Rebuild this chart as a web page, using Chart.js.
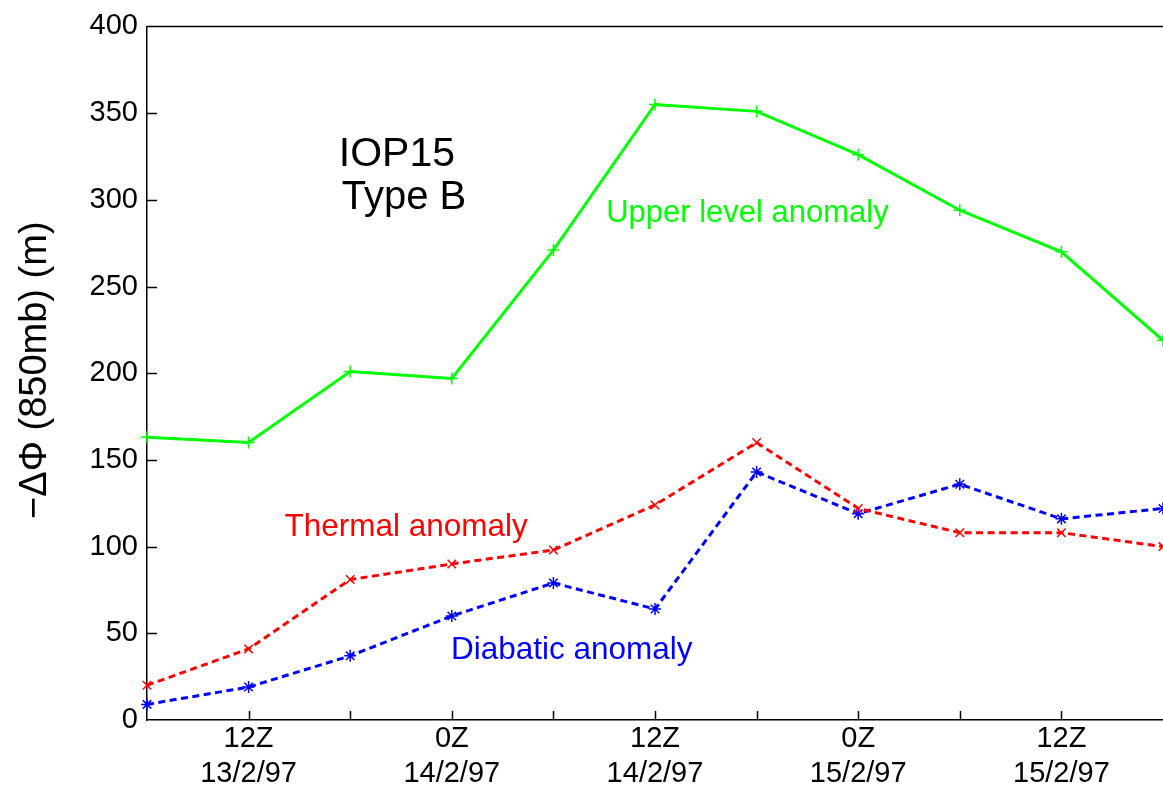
<!DOCTYPE html>
<html>
<head>
<meta charset="utf-8">
<style>
  html, body { margin: 0; padding: 0; background: #fff; overflow: hidden; }
  #wrap { width: 1163px; height: 789px; position: relative; }
</style>
<script src="https://cdn.jsdelivr.net/npm/chart.js@4/dist/chart.umd.min.js"></script>
</head>
<body>
<div id="wrap"><canvas id="chart"></canvas></div>
<script>
// ── Data ──────────────────────────────────────────────────────
const times = ['6Z', '12Z', '18Z', '0Z', '6Z', '12Z', '18Z', '0Z', '6Z', '12Z', '18Z'];
const dates = ['13/2/97', '13/2/97', '13/2/97', '14/2/97', '14/2/97', '14/2/97',
               '14/2/97', '15/2/97', '15/2/97', '15/2/97', '15/2/97'];
const labeledTimes = ['0Z', '12Z'];

const upperLevel = [163, 160, 201, 197, 271, 355, 351, 326, 294, 270, 219];
const thermal    = [20, 41, 81, 90, 98, 124, 160, 122, 108, 108, 100];
const diabatic   = [9, 19, 37, 60, 79, 64, 143, 119, 136, 116, 122];

const yTitle = '−ΔΦ (850mb) (m)';

// text placed in data coordinates (category index, value)
const notes = [
  { text: 'IOP15',               x: 2.46, y: 326, color: '#000000', size: 41 },
  { text: 'Type B',              x: 2.53, y: 301, color: '#000000', size: 40 },
  { text: 'Upper level anomaly', x: 5.91, y: 292, color: '#00ff00', size: 31 },
  { text: 'Thermal anomaly',     x: 2.55, y: 111, color: '#ff0000', size: 31.5 },
  { text: 'Diabatic anomaly',    x: 4.18, y: 40,  color: '#0000ff', size: 31.5 }
];

const FONT = '"Liberation Sans", Arial, Helvetica, sans-serif';

// ── Frame: top line, inward ticks, notes, y title ─────────────
const framePlugin = {
  id: 'frame',
  afterDatasetsDraw(chart) {
    const ctx = chart.ctx;
    const area = chart.chartArea;
    const xs = chart.scales.x;
    const ys = chart.scales.y;

    ctx.save();
    ctx.strokeStyle = '#000';
    ctx.lineWidth = 1.5;

    // top border
    ctx.beginPath();
    ctx.moveTo(area.left, area.top);
    ctx.lineTo(area.right + 2, area.top);
    ctx.stroke();

    // inward ticks on y
    ys.ticks.forEach(function (t) {
      if (t.value <= 0 || t.value >= 400) return;
      const py = Math.round(ys.getPixelForValue(t.value)) + 0.5;
      ctx.beginPath();
      ctx.moveTo(area.left, py);
      ctx.lineTo(area.left + 10, py);
      ctx.stroke();
    });

    // inward ticks on x
    for (let i = 1; i < times.length - 1; i++) {
      const px = Math.round(xs.getPixelForValue(i)) + 0.5;
      ctx.beginPath();
      ctx.moveTo(px, area.bottom);
      ctx.lineTo(px, area.bottom - 9);
      ctx.stroke();
    }

    // notes
    ctx.textAlign = 'center';
    ctx.textBaseline = 'middle';
    notes.forEach(function (n) {
      ctx.fillStyle = n.color;
      ctx.font = n.size + 'px ' + FONT;
      ctx.fillText(n.text, xs.getPixelForValue(n.x), ys.getPixelForValue(n.y));
    });

    // y axis title
    ctx.translate(36, (area.top + area.bottom) / 2 - 3);
    ctx.rotate(-Math.PI / 2);
    ctx.fillStyle = '#000';
    ctx.font = '38px ' + FONT;
    ctx.fillText(yTitle, 0, 0);
    ctx.restore();
  }
};

new Chart(document.getElementById('chart'), {
  type: 'line',
  data: {
    labels: times.map(function (t, i) { return t + ' ' + dates[i]; }),
    datasets: [
      {
        label: 'Upper level anomaly',
        data: upperLevel,
        borderColor: '#00ff00',
        backgroundColor: '#00ff00',
        borderWidth: 3,
        pointStyle: 'cross',
        pointRadius: 6,
        pointBorderWidth: 1.5,
        tension: 0
      },
      {
        label: 'Thermal anomaly',
        data: thermal,
        borderColor: '#ff0000',
        backgroundColor: '#ff0000',
        borderWidth: 3,
        borderDash: [7, 4.5],
        pointStyle: 'crossRot',
        pointRadius: 6,
        pointBorderWidth: 1.5,
        tension: 0
      },
      {
        label: 'Diabatic anomaly',
        data: diabatic,
        borderColor: '#0000ff',
        backgroundColor: '#0000ff',
        borderWidth: 3,
        borderDash: [7, 4.5],
        pointStyle: 'star',
        pointRadius: 6,
        pointBorderWidth: 1.5,
        tension: 0
      }
    ]
  },
  options: {
    responsive: true,
    maintainAspectRatio: false,
    animation: false,
    clip: false,
    layout: {
      autoPadding: false,
      padding: { top: 24, right: 0, bottom: 0, left: 0 }
    },
    plugins: {
      legend: { display: false },
      tooltip: { enabled: false }
    },
    scales: {
      x: {
        type: 'category',
        offset: false,
        grid: { display: false, drawTicks: false },
        border: { display: true, color: '#000', width: 1.5 },
        ticks: {
          autoSkip: false,
          maxRotation: 0,
          minRotation: 0,
          padding: 1,
          color: '#000',
          font: { family: FONT, size: 29, lineHeight: 1.22 },
          callback: function (v, i) {
            if (labeledTimes.indexOf(times[i]) < 0) return '';
            return [times[i], dates[i]];
          }
        },
        afterFit: function (scale) {
          scale.height = 69;
          scale.paddingLeft = 0;
          scale.paddingRight = 0;
        }
      },
      y: {
        min: 0,
        max: 400,
        grid: { display: false, drawTicks: false },
        border: { display: true, color: '#000', width: 1.5 },
        ticks: {
          stepSize: 50,
          padding: 9,
          color: '#000',
          font: { family: FONT, size: 29 }
        },
        afterFit: function (scale) { scale.width = 147; }
      }
    }
  },
  plugins: [framePlugin]
});
</script>
</body>
</html>
